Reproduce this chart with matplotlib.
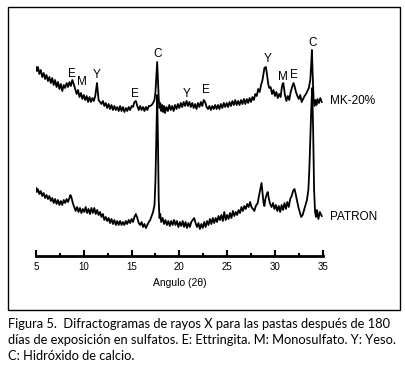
import matplotlib
matplotlib.use("Agg")
import matplotlib.pyplot as plt
from matplotlib.patches import Rectangle
from matplotlib.ticker import MultipleLocator

W, H = 406, 368

# MK-20% diffractogram (2theta, picture row of the trace)
mk_angle = [5.0, 5.1, 5.2, 5.35, 5.5, 5.65, 5.8, 5.95, 6.1, 6.25, 6.4, 6.55, 6.7, 6.85,
            7.0, 7.15, 7.3, 7.45, 7.6, 7.75, 7.9, 8.05, 8.2, 8.35, 8.5, 8.65, 8.8, 8.95,
            9.1, 9.25, 9.4, 9.55, 9.7, 9.85, 10.0, 10.15, 10.3, 10.45, 10.6, 10.75, 10.9,
            11.05, 11.2, 11.3, 11.38, 11.46, 11.55, 11.7, 11.85, 12.0, 12.15, 12.3, 12.45,
            12.6, 12.75, 12.9, 13.05, 13.2, 13.35, 13.5, 13.65, 13.8, 13.95, 14.1, 14.25,
            14.4, 14.55, 14.7, 14.85, 15.0, 15.15, 15.3, 15.45, 15.6, 15.75, 15.9, 16.05,
            16.2, 16.35, 16.5, 16.65, 16.8, 16.95, 17.1, 17.25, 17.4, 17.5, 17.6, 17.68,
            17.76, 17.84, 17.92, 18.0, 18.1, 18.2, 18.3, 18.4, 18.5, 18.65, 18.8, 18.95,
            19.1, 19.25, 19.4, 19.55, 19.7, 19.85, 20.0, 20.15, 20.3, 20.45, 20.6, 20.75,
            20.9, 21.05, 21.2, 21.35, 21.5, 21.65, 21.8, 21.95, 22.1, 22.25, 22.4, 22.55,
            22.7, 22.85, 23.0, 23.15, 23.3, 23.45, 23.6, 23.75, 23.9, 24.05, 24.2, 24.35,
            24.5, 24.65, 24.8, 24.95, 25.1, 25.25, 25.4, 25.55, 25.7, 25.85, 26.0, 26.15,
            26.3, 26.45, 26.6, 26.75, 26.9, 27.05, 27.2, 27.35, 27.5, 27.65, 27.8, 27.95,
            28.1, 28.25, 28.4, 28.55, 28.7, 28.8, 28.9, 29.05, 29.15, 29.3, 29.4, 29.55,
            29.7, 29.85, 30.0, 30.15, 30.3, 30.45, 30.6, 30.7, 30.8, 30.88, 30.95, 31.05,
            31.2, 31.35, 31.5, 31.65, 31.8, 31.95, 32.05, 32.2, 32.35, 32.5, 32.65, 32.8,
            32.95, 33.1, 33.25, 33.4, 33.55, 33.7, 33.8, 33.87, 33.95, 34.05, 34.15, 34.25,
            34.35, 34.45, 34.6, 34.75, 34.9]
mk_ypix = [67, 71, 67, 74, 70, 77, 73, 79, 75, 81, 77, 83, 78, 85,
           80, 87, 82, 89, 84, 91, 85, 88, 83, 87, 82, 86, 80, 84,
           89, 94, 90, 97, 93, 99, 95, 100, 96, 102, 97, 102, 98,
           101, 96, 89, 83, 91, 100, 102, 104, 101, 106, 103, 108,
           104, 109, 105, 110, 106, 110, 107, 111, 106, 111, 107, 112,
           108, 111, 107, 110, 106, 107, 102, 101, 106, 110, 106, 110,
           107, 111, 107, 110, 106, 106, 105, 103, 100, 92, 76, 62,
           80, 98, 108, 103, 111, 105, 112, 106, 113, 107, 111, 105,
           110, 106, 111, 105, 109, 104, 108, 103, 107, 102, 106, 101,
           106, 102, 107, 103, 108, 104, 109, 103, 107, 102, 106, 100,
           102, 107, 109, 106, 110, 106, 109, 105, 109, 105, 109, 104,
           108, 103, 107, 103, 107, 102, 106, 101, 105, 100, 105, 101,
           105, 100, 104, 99, 104, 99, 103, 98, 102, 97, 100, 94,
           96, 89, 92, 85, 80, 74, 68, 67, 73, 84, 88, 87,
           94, 90, 96, 92, 98, 94, 97, 89, 84, 83, 88, 95,
           101, 96, 100, 92, 87, 83, 86, 92, 96, 99, 95, 102,
           99, 96, 94, 91, 88, 80, 64, 50, 74, 100, 106, 100,
           105, 99, 103, 98, 102]

# PATRON diffractogram
pt_angle = [5.0, 5.1, 5.2, 5.35, 5.5, 5.65, 5.8, 5.95, 6.1, 6.25, 6.4, 6.55, 6.7, 6.85,
            7.0, 7.15, 7.3, 7.45, 7.6, 7.75, 7.9, 8.05, 8.2, 8.35, 8.5, 8.6, 8.7, 8.85,
            9.0, 9.15, 9.3, 9.45, 9.6, 9.75, 9.9, 10.05, 10.2, 10.35, 10.5, 10.65, 10.8,
            10.95, 11.1, 11.25, 11.4, 11.55, 11.7, 11.85, 12.0, 12.15, 12.3, 12.45, 12.6,
            12.75, 12.9, 13.05, 13.2, 13.35, 13.5, 13.65, 13.8, 13.95, 14.1, 14.25, 14.4,
            14.55, 14.7, 14.85, 15.0, 15.15, 15.3, 15.45, 15.6, 15.75, 15.9, 16.05, 16.2,
            16.35, 16.5, 16.65, 16.8, 16.95, 17.1, 17.25, 17.4, 17.5, 17.6, 17.68, 17.76,
            17.84, 17.92, 18.0, 18.1, 18.25, 18.4, 18.55, 18.7, 18.85, 19.0, 19.15, 19.3,
            19.45, 19.6, 19.75, 19.9, 20.05, 20.2, 20.35, 20.5, 20.65, 20.8, 20.95, 21.1,
            21.25, 21.4, 21.55, 21.7, 21.85, 22.0, 22.15, 22.3, 22.45, 22.6, 22.75, 22.9,
            23.05, 23.2, 23.35, 23.5, 23.65, 23.8, 23.95, 24.1, 24.25, 24.4, 24.55, 24.7,
            24.85, 25.0, 25.15, 25.3, 25.45, 25.6, 25.75, 25.9, 26.05, 26.2, 26.35, 26.5,
            26.65, 26.8, 26.95, 27.1, 27.25, 27.4, 27.55, 27.7, 27.85, 28.0, 28.2, 28.35,
            28.5, 28.6, 28.7, 28.8, 28.9, 29.0, 29.15, 29.25, 29.35, 29.5, 29.65, 29.8,
            29.95, 30.1, 30.25, 30.4, 30.55, 30.7, 30.85, 31.0, 31.15, 31.3, 31.45, 31.6,
            31.75, 31.9, 32.05, 32.15, 32.3, 32.45, 32.6, 32.75, 32.9, 33.05, 33.2, 33.35,
            33.5, 33.6, 33.7, 33.8, 33.9, 34.0, 34.1, 34.2, 34.3, 34.4, 34.55, 34.7, 34.9]
pt_ypix = [188, 192, 189, 194, 191, 196, 193, 198, 195, 199, 196, 201, 198, 203,
           199, 204, 200, 205, 201, 205, 200, 203, 199, 202, 198, 195, 197, 203,
           207, 211, 207, 212, 208, 213, 209, 212, 207, 213, 209, 214, 208,
           213, 208, 214, 210, 215, 212, 217, 214, 220, 217, 221, 218,
           223, 219, 224, 220, 225, 221, 225, 221, 225, 222, 225, 221,
           224, 220, 223, 219, 222, 217, 214, 218, 223, 225, 222, 227,
           224, 228, 225, 222, 220, 216, 212, 205, 180, 130, 95, 140,
           200, 218, 214, 222, 218, 224, 220, 225, 221, 226, 221, 225,
           220, 225, 221, 227, 222, 226, 221, 227, 222, 228, 223, 227,
           222, 220, 218, 223, 227, 223, 229, 224, 228, 222, 227, 221,
           225, 219, 224, 218, 223, 218, 222, 216, 220, 215, 221, 212,
           220, 215, 219, 213, 218, 211, 216, 212, 215, 210, 213, 207,
           211, 206, 209, 204, 207, 202, 207, 209, 211, 206, 203, 195,
           188, 183, 192, 202, 206, 199, 194, 192, 198, 204, 207, 203,
           209, 205, 211, 206, 212, 205, 210, 203, 209, 202, 207, 199,
           196, 191, 189, 193, 200, 207, 212, 217, 215, 210, 205, 200,
           190, 170, 140, 110, 88, 130, 190, 212, 217, 210, 219, 212, 216]

# picture rows -> intensity above the axis line
BASE = 256
mk_int = [BASE - v for v in mk_ypix]
pt_int = [BASE - v for v in pt_ypix]

# peak labels: (text, 2theta, intensity)
peak_labels = [("E", 8.75, 182), ("M", 9.8, 174), ("Y", 11.4, 181), ("E", 15.4, 162),
               ("C", 17.75, 202), ("Y", 20.8, 162), ("E", 22.8, 166), ("Y", 29.2, 197),
               ("M", 30.85, 179), ("E", 32.0, 181), ("C", 33.9, 213)]

fig = plt.figure(figsize=(W / 100, H / 100), dpi=100)

def fx(px):
    return px / W

def fy(py):
    return 1 - py / H

ax = fig.add_axes([fx(36), fy(BASE), fx(322.7) - fx(36), fy(7) - fy(BASE)])
ax.plot(mk_angle, mk_int, color="black", lw=1.3)
ax.plot(pt_angle, pt_int, color="black", lw=1.3)
ax.set_xlim(5, 35)
ax.set_ylim(0, BASE - 7)

for s in ["top", "right", "left"]:
    ax.spines[s].set_visible(False)
ax.spines["bottom"].set_linewidth(2)
ax.set_yticks([])
ax.xaxis.set_major_locator(MultipleLocator(5))
ax.xaxis.set_minor_locator(MultipleLocator(2.5))
ax.tick_params(axis="x", which="major", direction="in", length=4, width=1.5,
               labelsize=7, pad=4)
ax.tick_params(axis="x", which="minor", direction="in", length=2.5, width=1.5)
for lab in ax.get_xticklabels():
    lab.set_fontfamily("Liberation Sans")
ax.set_xlabel("Angulo (2θ)", fontsize=7.5, family="Liberation Sans", labelpad=5)

for txt, a, v in peak_labels:
    ax.text(a, v, txt, ha="center", va="center", fontsize=8.5, family="Liberation Sans")
ax.text(35.75, BASE - 101, "MK-20%", ha="left", va="center", fontsize=8.5,
        family="Liberation Sans")
ax.text(35.75, BASE - 217, "PATRON", ha="left", va="center", fontsize=8.5,
        family="Liberation Sans")

# frame round the chart
fig.add_artist(Rectangle((fx(8), fy(310)), fx(400) - fx(8), fy(7) - fy(310),
                         transform=fig.transFigure, fill=False, lw=1, ec="black"))

caption = ("Figura 5.  Difractogramas de rayos X para las pastas después de 180\n"
           "días de exposición en sulfatos. E: Ettringita. M: Monosulfato. Y: Yeso.\n"
           "C: Hidróxido de calcio.")
fig.text(fx(8), fy(318), caption, ha="left", va="top", fontsize=9.3,
         family="Lato", linespacing=1.42)

fig.savefig("out.png", dpi=100)
